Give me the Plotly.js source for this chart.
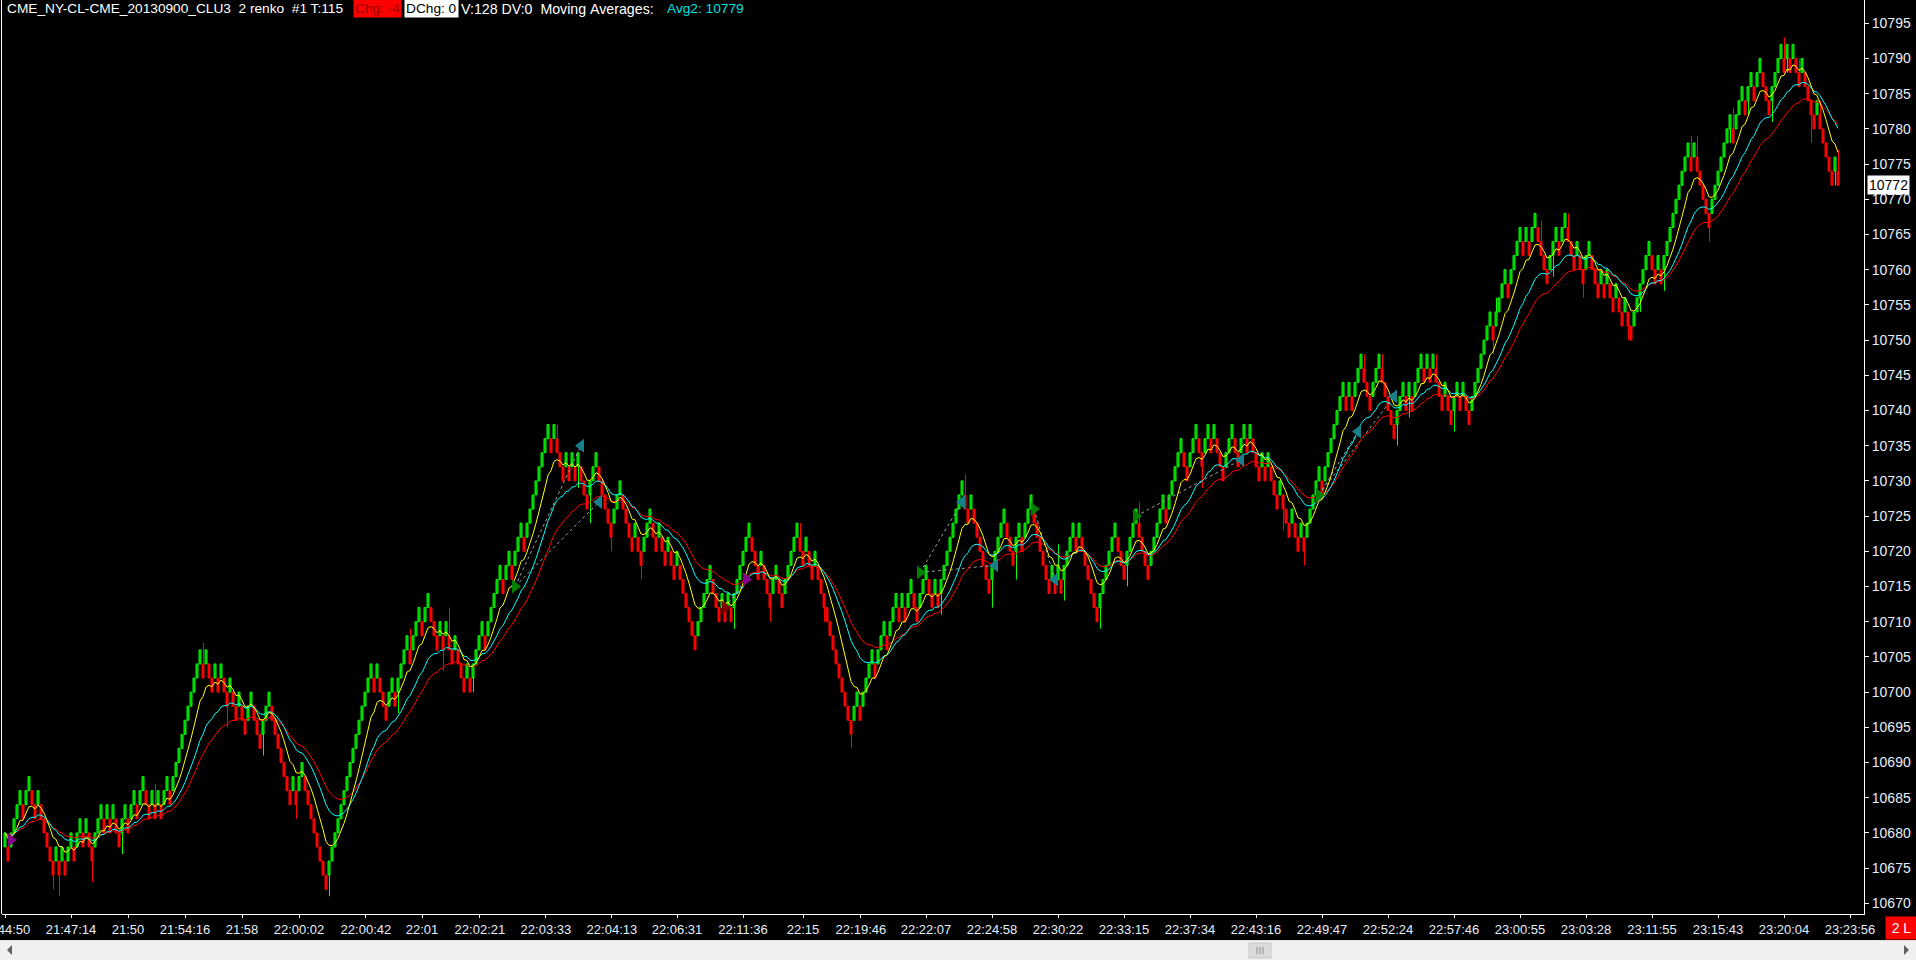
<!DOCTYPE html>
<html><head><meta charset="utf-8">
<script src="https://cdn.plot.ly/plotly-3.0.1.min.js"></script>
<style>html,body{margin:0;padding:0;background:#000;overflow:hidden}#chart{width:1916px;height:960px}</style>
</head><body><div id="chart"></div>
<script>
// Renko brick bottoms (price), one per bar, brick size 2
const brickLow = [
10678,10676,10678,10680,10682,10684,10682,10684,10686,10684,10682,10684,10682,10680,10678,10676,10674,10676,10674,10676,
10674,10676,10678,10676,10678,10680,10678,10680,10678,10676,10678,10680,10682,10680,10682,10680,10682,10680,10678,10680,
10682,10680,10682,10684,10682,10684,10686,10684,10682,10684,10682,10684,10682,10684,10686,10684,10686,10688,10690,10692,
10694,10696,10698,10700,10702,10704,10702,10704,10702,10700,10702,10700,10702,10700,10698,10700,10698,10696,10698,10696,
10694,10696,10698,10696,10694,10692,10694,10696,10698,10696,10694,10692,10690,10688,10686,10684,10686,10684,10686,10688,
10686,10684,10682,10680,10678,10676,10674,10672,10674,10676,10678,10680,10682,10684,10686,10688,10690,10692,10694,10696,
10698,10700,10702,10700,10702,10700,10698,10696,10698,10700,10698,10700,10702,10704,10706,10704,10706,10708,10710,10708,
10710,10712,10710,10708,10706,10708,10706,10708,10706,10704,10706,10704,10702,10700,10702,10700,10702,10704,10706,10708,
10706,10708,10710,10712,10714,10716,10714,10716,10718,10716,10718,10720,10722,10720,10722,10724,10726,10728,10730,10732,
10734,10736,10734,10736,10734,10732,10730,10732,10730,10732,10730,10732,10730,10728,10726,10728,10730,10732,10730,10728,
10726,10724,10722,10724,10726,10728,10726,10724,10722,10720,10722,10720,10718,10720,10722,10724,10722,10720,10722,10720,
10718,10720,10718,10716,10718,10716,10714,10712,10710,10708,10706,10708,10710,10712,10714,10716,10714,10712,10710,10712,
10710,10712,10710,10712,10714,10716,10718,10720,10722,10720,10718,10716,10718,10716,10714,10712,10714,10716,10714,10712,
10714,10716,10718,10720,10722,10720,10718,10720,10718,10716,10718,10716,10714,10712,10710,10708,10706,10704,10702,10700,
10698,10696,10694,10696,10698,10696,10698,10700,10702,10704,10702,10704,10706,10708,10706,10708,10710,10712,10710,10712,
10710,10712,10714,10712,10710,10712,10714,10716,10714,10712,10714,10712,10714,10716,10718,10720,10722,10724,10726,10728,
10726,10724,10726,10724,10722,10720,10718,10716,10714,10716,10718,10720,10722,10724,10722,10720,10718,10720,10722,10720,
10722,10724,10726,10724,10722,10720,10718,10716,10714,10716,10714,10716,10714,10716,10718,10720,10722,10720,10722,10720,
10718,10716,10714,10712,10710,10712,10714,10716,10718,10720,10722,10720,10718,10716,10718,10720,10722,10724,10722,10720,
10718,10716,10718,10720,10722,10724,10726,10724,10726,10728,10730,10732,10734,10732,10730,10732,10734,10736,10734,10732,
10734,10736,10734,10736,10734,10732,10730,10732,10734,10736,10734,10732,10734,10736,10734,10736,10734,10732,10730,10732,
10730,10732,10730,10728,10726,10728,10726,10724,10722,10724,10722,10720,10722,10720,10722,10724,10726,10728,10730,10728,
10730,10732,10734,10736,10738,10740,10742,10740,10742,10740,10742,10744,10746,10744,10742,10740,10742,10744,10746,10744,
10742,10740,10738,10736,10738,10740,10742,10740,10742,10740,10742,10744,10746,10744,10746,10744,10746,10744,10742,10740,
10742,10740,10738,10740,10742,10740,10742,10740,10738,10740,10742,10744,10746,10748,10750,10752,10750,10752,10754,10756,
10758,10756,10758,10760,10762,10764,10762,10764,10762,10764,10766,10764,10762,10760,10758,10760,10762,10764,10762,10764,
10766,10764,10762,10760,10762,10760,10758,10760,10762,10760,10758,10756,10758,10756,10758,10756,10754,10756,10754,10752,
10754,10752,10750,10752,10754,10756,10758,10760,10762,10760,10758,10760,10758,10760,10762,10764,10766,10768,10770,10772,
10774,10776,10774,10776,10774,10772,10770,10768,10766,10768,10770,10772,10774,10776,10778,10780,10778,10780,10782,10784,
10782,10784,10786,10784,10786,10788,10786,10784,10782,10784,10786,10788,10790,10788,10790,10788,10790,10788,10786,10788,
10786,10784,10782,10780,10782,10780,10778,10776,10774,10772,10774,10772
];
const brickSize = 2;

// Wicks: bar index and wick extreme price
const wickBar = [16,18,29,39,50,66,74,86,97,108,131,135,146,148,156,184,191,195,202,212,243,255,265,273,282,312,320,329,337,351,353,365,374,378,399,426,433,453,459,464,468,477,483,496,497,512,516,521,526,541,545,553,562,564,568,575,576,581,589,593,594,598,602,605,610,611];
const wickEnd = [10672,10671,10673,10677,10687,10707,10695,10691,10682,10671,10697,10709,10703,10712,10700,10738,10729,10724,10720,10716,10709,10710,10724,10710,10692,10711,10731,10712,10716,10721,10713,10709,10715,10727,10729,10723,10718,10748,10748,10735,10739,10748,10737,10748,10756,10767,10759,10768,10756,10750,10754,10757,10779,10779,10764,10778,10783,10782,10781,10793,10788,10790,10778,10784,10772,10777];

// Trade signal markers (bar, price, kind) and dotted links between them
const sigBar   = [2, 170, 192, 198, 240, 247, 305, 319, 330, 343, 350, 377, 412, 438, 451, 463];
const sigPrice = [10679, 10715, 10735, 10727, 10712, 10716, 10717, 10727, 10718, 10726, 10716, 10725, 10733, 10728, 10737, 10742];
const sigKind  = ['p','g','t','t','r','p','g','t','t','g','t','g','t','g','t','t'];
const sigLinks = [[1,2],[1,3],[4,5],[6,7],[6,8],[9,10],[11,12],[13,14],[13,15]];

// Time axis labels at bar positions
const tickPos = [0,22,41,60,79,98,120.3,139,158.3,180.3,202.3,224,246,266,285.3,307,329,351,373,395,417,439,461,483,505,527,549,571,593,615];
const tickText = ["21:44:50","21:47:14","21:50","21:54:16","21:58","22:00:02","22:00:42","22:01","22:02:21","22:03:33","22:04:13","22:06:31","22:11:36","22:15","22:19:46","22:22:07","22:24:58","22:30:22","22:33:15","22:37:34","22:43:16","22:49:47","22:52:24","22:57:46","23:00:55","23:03:28","23:11:55","23:15:43","23:20:04","23:23:56"];

// Moving average study lengths
const maLengths = [9, 20, 30];
const maColors = ['#ffff00', '#00ffff', '#ff0000'];

const n = brickLow.length;
const idx = brickLow.map((_, i) => i);
const isUp = brickLow.map((b, i) => i === 0 ? true : b > brickLow[i - 1]);
const closes = brickLow.map((b, i) => isUp[i] ? b + brickSize : b);
function ema(src, len) {
  const a = 2 / (len + 1); const out = []; let v = src[0];
  for (const s of src) { v = v + a * (s - v); out.push(v); }
  return out;
}

const GREEN = '#00ff00', RED = '#ff0000';
const PXOFF = 1 / 6; // half-pixel alignment of thin lines with the bricks
const traces = [];
traces.push({
  type: 'bar', x: idx, base: brickLow, y: brickLow.map(() => brickSize), width: 0.67,
  marker: { color: isUp.map(u => u ? '#00b400' : RED), line: { color: isUp.map(u => u ? GREEN : RED), width: 1 } },
  hoverinfo: 'skip', showlegend: false
});
function wickTrace(up) {
  const xs = [], ys = [];
  wickBar.forEach((bi, k) => {
    if (isUp[bi] !== up) return;
    const lo = brickLow[bi], hi = lo + brickSize, e = wickEnd[k];
    xs.push(bi + PXOFF, bi + PXOFF, null); ys.push(e > hi ? hi : lo, e, null);
  });
  return { type: 'scatter', mode: 'lines', x: xs, y: ys, line: { color: up ? GREEN : RED, width: 1 }, hoverinfo: 'skip', showlegend: false };
}
traces.push(wickTrace(true), wickTrace(false));

// dotted signal links
const lx = [], ly = [];
sigLinks.forEach(([a, b]) => { lx.push(sigBar[a], sigBar[b], null); ly.push(sigPrice[a], sigPrice[b], null); });
traces.push({ type: 'scatter', mode: 'lines', x: lx, y: ly, line: { color: '#a0a0a0', width: 1, dash: 'dot' }, hoverinfo: 'skip', showlegend: false });

[2, 1, 0].forEach(k => {
  traces.push({ type: 'scatter', mode: 'lines', x: idx, y: ema(closes, maLengths[k]),
    line: { color: maColors[k], width: 1 }, hoverinfo: 'skip', showlegend: false });
});

const sigStyle = { p: ['triangle-right', '#8a008a'], g: ['triangle-right', '#008000'], t: ['triangle-left', '#17808a'], r: ['triangle-right', '#800000'] };
traces.push({ type: 'scatter', mode: 'markers', x: sigBar, y: sigPrice,
  marker: { symbol: sigKind.map(k => sigStyle[k][0]), color: sigKind.map(k => sigStyle[k][1]), size: 12, line: { width: 0 } },
  hoverinfo: 'skip', showlegend: false });

const W = 1916, H = 960, L = 2, R = 52, T = 0, B = 46;
const pw = W - L - R, ph = H - T - B;
const px = x => (x - L) / pw;
const py = y => (ph - (y - T)) / ph;
const FONT = 'Liberation Sans, Arial, sans-serif';
const lastClose = closes[n - 1];
const x0 = -1;

const nb = '\u00a0';
const TF = 13.7;
const annotations = [
  { xref: 'paper', yref: 'paper', x: px(5), y: py(9), xanchor: 'left', yanchor: 'middle', showarrow: false,
    text: 'CME_NY-CL-CME_20130900_CLU3' + nb + nb + '2 renko' + nb + nb + '#1 T:115', font: { family: FONT, size: TF, color: '#ffffff' } },
  { xref: 'paper', yref: 'paper', x: px(353), y: py(9), xanchor: 'left', yanchor: 'middle', showarrow: false,
    text: 'Chg: -4', bgcolor: '#ff0000', borderpad: 1, font: { family: FONT, size: TF, color: '#9a0000' } },
  { xref: 'paper', yref: 'paper', x: px(404), y: py(9), xanchor: 'left', yanchor: 'middle', showarrow: false,
    text: 'DChg: 0', bgcolor: '#ffffff', borderpad: 1, font: { family: FONT, size: TF, color: '#000000' } },
  { xref: 'paper', yref: 'paper', x: px(459), y: py(9), xanchor: 'left', yanchor: 'middle', showarrow: false,
    text: 'V:128 DV:0' + nb + nb + 'Moving' + nb + 'Averages:', font: { family: FONT, size: 14.2, color: '#ffffff' } },
  { xref: 'paper', yref: 'paper', x: px(665), y: py(9), xanchor: 'left', yanchor: 'middle', showarrow: false,
    text: 'Avg2: 10779', font: { family: FONT, size: TF, color: '#00e0e0' } },
  { xref: 'paper', yref: 'y', x: px(1867), y: lastClose, xanchor: 'left', yanchor: 'middle', showarrow: false,
    text: String(lastClose), bgcolor: '#ffffff', borderpad: 1, font: { family: FONT, size: 14, color: '#000000' } },
  { xref: 'paper', yref: 'paper', x: px(1901.5), y: py(928), xanchor: 'center', yanchor: 'middle', showarrow: false,
    text: '2 L', bgcolor: '#ff0000', width: 29, height: 20, font: { family: FONT, size: 14, color: '#ffffff' } }
];

const shapes = [
  { type: 'line', xref: 'paper', yref: 'paper', x0: px(1.5), x1: px(1.5), y0: py(0), y1: py(914), line: { color: '#ffffff', width: 1 } },
  { type: 'rect', xref: 'paper', yref: 'paper', x0: px(0), x1: px(1916), y0: py(940), y1: py(960), fillcolor: '#f0f0f0', line: { width: 0 } },
  { type: 'line', xref: 'paper', yref: 'paper', x0: px(0), x1: px(1916), y0: py(940.5), y1: py(940.5), line: { color: '#e0e0e0', width: 1 } },
  { type: 'rect', xref: 'paper', yref: 'paper', x0: px(1249), x1: px(1271), y0: py(943), y1: py(958), fillcolor: '#dadada', line: { color: '#c8c8c8', width: 1 } },
  { type: 'path', xref: 'paper', yref: 'paper', path: `M ${px(7)} ${py(950)} L ${px(12)} ${py(945)} L ${px(12)} ${py(955)} Z`, fillcolor: '#606060', line: { width: 0 } },
  { type: 'path', xref: 'paper', yref: 'paper', path: `M ${px(1909)} ${py(950)} L ${px(1904)} ${py(945)} L ${px(1904)} ${py(955)} Z`, fillcolor: '#606060', line: { width: 0 } }
];
[1257, 1260, 1263].forEach(g => shapes.push({ type: 'line', xref: 'paper', yref: 'paper', x0: px(g), x1: px(g), y0: py(947), y1: py(954), line: { color: '#909090', width: 1 } }));

const layout = {
  width: W, height: H, margin: { l: L, r: R, t: T, b: B, pad: 0 },
  paper_bgcolor: '#000000', plot_bgcolor: '#000000', showlegend: false, barmode: 'overlay',
  xaxis: { range: [x0, x0 + pw / 3], tickmode: 'array', tickvals: tickPos, ticktext: tickText,
    showgrid: false, zeroline: false, showline: true, linecolor: '#ffffff', linewidth: 1,
    ticks: 'outside', ticklen: 3, tickcolor: '#ffffff', tickwidth: 1, ticklabeloverflow: 'allow',
    tickfont: { family: FONT, size: 13, color: '#e6eef8' }, fixedrange: true },
  yaxis: { side: 'right', range: [10668.48, 10798.31], tick0: 10670, dtick: 5,
    showgrid: false, zeroline: false, showline: true, linecolor: '#ffffff', linewidth: 1,
    ticks: 'outside', ticklen: 4, tickcolor: '#ffffff', tickwidth: 1,
    tickformat: 'd', tickfont: { family: FONT, size: 14, color: '#e6eef8' }, fixedrange: true },
  annotations: annotations, shapes: shapes
};
Plotly.newPlot('chart', traces, layout, { displayModeBar: false, staticPlot: true });
</script></body></html>
